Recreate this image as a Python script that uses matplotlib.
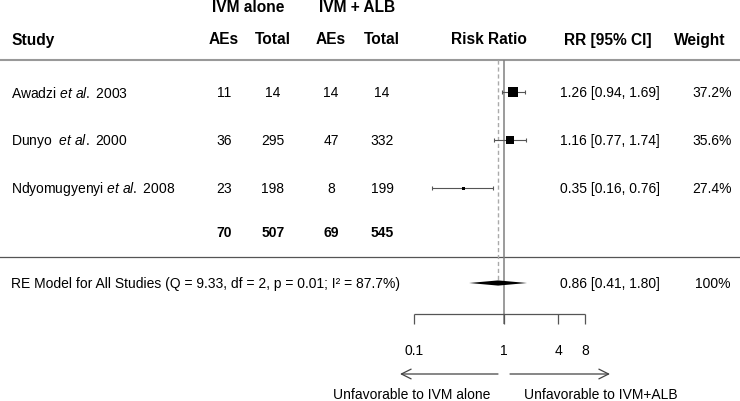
import matplotlib
matplotlib.use("Agg")
import matplotlib.pyplot as plt
import numpy as np

plt.rcParams['font.family'] = ['Liberation Sans', 'DejaVu Sans']
plt.rcParams['mathtext.fontset'] = 'custom'
plt.rcParams['mathtext.rm'] = 'Liberation Sans'
plt.rcParams['mathtext.it'] = 'Liberation Sans:italic'
plt.rcParams['mathtext.bf'] = 'Liberation Sans:bold'

# ---------------- data ----------------
studies = [r"Awadzi $\it{et\ al.}$ 2003",
           r"Dunyo  $\it{et\ al.}$ 2000",
           r"Ndyomugyenyi $\it{et\ al.}$ 2008"]
ivm_aes = [11, 36, 23]
ivm_total = [14, 295, 198]
alb_aes = [14, 47, 8]
alb_total = [14, 332, 199]
totals = [70, 507, 69, 545]
rr = [1.26, 1.16, 0.35]
ci_low = [0.94, 0.77, 0.16]
ci_high = [1.69, 1.74, 0.76]
weights = ["37.2%", "35.6%", "27.4%"]
re_label = "RE Model for All Studies (Q = 9.33, df = 2, p = 0.01; I² = 87.7%)"
re_est, re_low, re_high = 0.86, 0.41, 1.80
re_weight = "100%"
axis_ticks = [0.1, 1, 4, 8]
axis_ticklabels = ["0.1", "1", "4", "8"]
left_label = "Unfavorable to IVM alone"
right_label = "Unfavorable to IVM+ALB"

# ---------------- layout (pixels) ----------------
W, H = 740, 402
x_one = 504.0        # pixel of RR = 1
px_per_dec = 90.0    # pixels per decade
row_top, row_step = 93, 48
row_tot = 233
row_re = 284
y_hdr1, y_hdr2 = 8, 40
y_line1, y_line2 = 61, 258
y_axis, tick_len = 315, 10
y_ticklab = 351
y_arrow, y_arrlab = 375, 395
marker_px = [10, 8, 3]

fig = plt.figure(figsize=(W / 100, H / 100), dpi=100)
ax = fig.add_axes([0, 0, 1, 1])
ax.set_xscale('log')
ax.set_xlim(10 ** (-x_one / px_per_dec), 10 ** ((W - x_one) / px_per_dec))
ax.set_ylim(H, 0)
ax.axis('off')

tr = ax.get_yaxis_transform()  # x axes fraction, y data


def px(x):
    return x / W


fs = 10
hfs = 11.2
rows_y = [row_top + i * row_step for i in range(len(studies))]

# headers
hdr = dict(transform=tr, va='center', fontsize=hfs, fontweight='bold')
ax.text(px(248), y_hdr1, "IVM alone", ha='center', **hdr)
ax.text(px(357), y_hdr1, "IVM + ALB", ha='center', **hdr)
ax.text(px(11), y_hdr2, "Study", ha='left', **hdr)
col_x = [224, 273, 331, 382]
for cx, lab in zip(col_x, ["AEs", "Total", "AEs", "Total"]):
    ax.text(px(cx), y_hdr2, lab, ha='center', **hdr)
ax.text(px(489), y_hdr2, "Risk Ratio", ha='center', **hdr)
ax.text(px(608), y_hdr2, "RR [95% CI]", ha='center', **hdr)
ax.text(px(700), y_hdr2, "Weight", ha='center', **hdr)

# separator lines
ax.axhline(y_line1, color='#999999', lw=1.5, zorder=1)
ax.axhline(y_line2, color='#555555', lw=0.9, zorder=1)

# reference lines
ax.vlines(1, y_line1, y_axis + tick_len, color='#808080', lw=1.1, zorder=2)
ax.vlines(re_est, y_line1, row_re, color='#aaaaaa', lw=1.0, linestyles=(0, (3, 2)), zorder=2)

# study rows
for i, y in enumerate(rows_y):
    ax.text(px(11), y, studies[i], transform=tr, ha='left', va='center', fontsize=fs)
    for cx, v in zip(col_x, [ivm_aes[i], ivm_total[i], alb_aes[i], alb_total[i]]):
        ax.text(px(cx), y, str(v), transform=tr, ha='center', va='center', fontsize=fs)
    ax.text(px(610), y, f"{rr[i]:.2f} [{ci_low[i]:.2f}, {ci_high[i]:.2f}]", transform=tr,
            ha='center', va='center', fontsize=fs)
    ax.text(px(732), y, weights[i], transform=tr, ha='right', va='center', fontsize=fs)

ax.errorbar(rr, rows_y, xerr=[np.array(rr) - np.array(ci_low), np.array(ci_high) - np.array(rr)],
            fmt='none', ecolor='#555555', elinewidth=0.8, capsize=1.5, capthick=0.8, zorder=3)
for i, y in enumerate(rows_y):
    ax.plot([rr[i]], [y], 's', color='black', ms=marker_px[i] * 0.72, mew=0, zorder=4)

# totals row
for cx, v in zip(col_x, totals):
    ax.text(px(cx), row_tot, str(v), transform=tr, ha='center', va='center', fontsize=fs, fontweight='bold')

# RE model row
ax.text(px(11), row_re, re_label, transform=tr, ha='left', va='center', fontsize=fs)
dh = 2.6
ax.fill([re_low, re_est, re_high, re_est], [row_re, row_re - dh, row_re, row_re + dh],
        color='black', lw=0, zorder=4)
ax.text(px(610), row_re, f"{re_est:.2f} [{re_low:.2f}, {re_high:.2f}]", transform=tr,
        ha='center', va='center', fontsize=fs)
ax.text(px(730), row_re, re_weight, transform=tr, ha='right', va='center', fontsize=fs)

# x axis
ax.hlines(y_axis, axis_ticks[0], axis_ticks[-1], color='#555555', lw=0.9)
ax.vlines(axis_ticks, y_axis, y_axis + tick_len, color='#555555', lw=0.9)
for t, lab in zip(axis_ticks, axis_ticklabels):
    ax.text(t, y_ticklab, lab, ha='center', va='center', fontsize=fs)

# arrows
arrow = dict(arrowstyle='->,head_length=0.7,head_width=0.35', color='#444444', lw=0.9,
             shrinkA=0, shrinkB=0)
ax.annotate('', xy=(px(400), y_arrow), xytext=(px(498), y_arrow), xycoords=tr, textcoords=tr,
            arrowprops=arrow)
ax.annotate('', xy=(px(610), y_arrow), xytext=(px(510), y_arrow), xycoords=tr, textcoords=tr,
            arrowprops=arrow)
ax.text(px(412), y_arrlab, left_label, transform=tr, ha='center', va='center', fontsize=fs)
ax.text(px(601), y_arrlab, right_label, transform=tr, ha='center', va='center', fontsize=fs)

fig.savefig("out.png", dpi=100, facecolor='white')
